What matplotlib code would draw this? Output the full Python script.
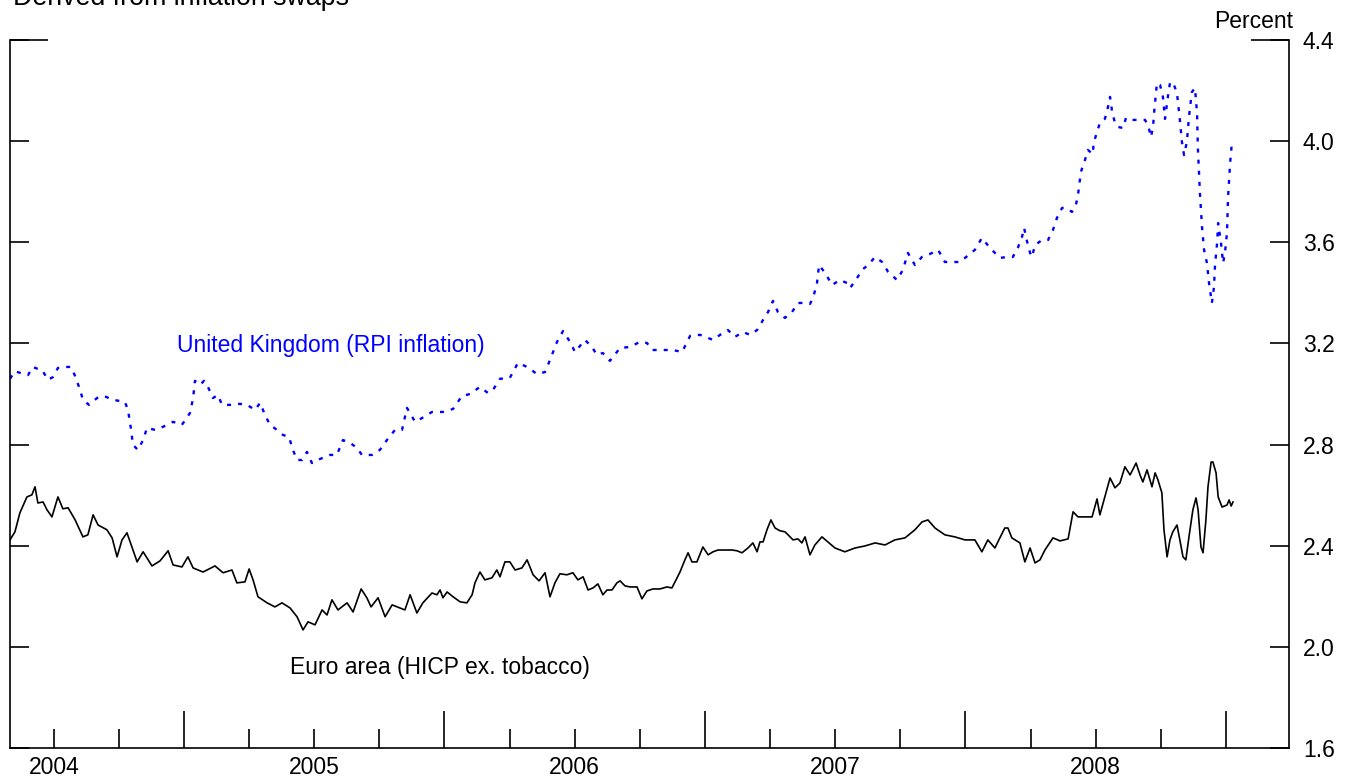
import matplotlib
matplotlib.use("Agg")
import matplotlib.pyplot as plt
import numpy as np

plt.rcParams['font.family'] = ['Liberation Sans', 'DejaVu Sans']

# UK inflation swaps (RPI), decimal years / percent
uk_years = [2004.332, 2004.351, 2004.382, 2004.401, 2004.420, 2004.439, 2004.455, 2004.478, 2004.497, 2004.516,
            2004.535, 2004.566, 2004.582, 2004.601, 2004.612, 2004.635, 2004.666, 2004.693, 2004.727, 2004.773,
            2004.785, 2004.797, 2004.804, 2004.823, 2004.843, 2004.858, 2004.889, 2004.919, 2004.958, 2004.992,
            2005.023, 2005.035, 2005.042, 2005.061, 2005.077, 2005.092, 2005.111, 2005.130, 2005.146, 2005.177,
            2005.215, 2005.242, 2005.273, 2005.292, 2005.311, 2005.330, 2005.357, 2005.380, 2005.403, 2005.418,
            2005.434, 2005.453, 2005.472, 2005.491, 2005.522, 2005.560, 2005.587, 2005.610, 2005.637, 2005.664,
            2005.683, 2005.722, 2005.752, 2005.779, 2005.810, 2005.837, 2005.856, 2005.887, 2005.914, 2005.952,
            2005.994, 2006.033, 2006.067, 2006.098, 2006.136, 2006.167, 2006.186, 2006.213, 2006.251, 2006.282,
            2006.317, 2006.355, 2006.386, 2006.405, 2006.432, 2006.455, 2006.482, 2006.501, 2006.520, 2006.539,
            2006.566, 2006.585, 2006.608, 2006.635, 2006.674, 2006.712, 2006.750, 2006.777, 2006.797, 2006.839,
            2006.877, 2006.912, 2006.943, 2006.981, 2007.031, 2007.058, 2007.088, 2007.115, 2007.146, 2007.173,
            2007.200, 2007.223, 2007.242, 2007.261, 2007.280, 2007.307, 2007.334, 2007.357, 2007.384, 2007.403,
            2007.415, 2007.430, 2007.438, 2007.461, 2007.488, 2007.518, 2007.545, 2007.557, 2007.584, 2007.603,
            2007.626, 2007.653, 2007.680, 2007.703, 2007.737, 2007.760, 2007.779, 2007.806, 2007.833, 2007.864,
            2007.895, 2007.921, 2007.979, 2008.036, 2008.063, 2008.094, 2008.132, 2008.159, 2008.182, 2008.201,
            2008.217, 2008.225, 2008.236, 2008.248, 2008.255, 2008.267, 2008.294, 2008.317, 2008.336, 2008.351,
            2008.371, 2008.386, 2008.409, 2008.424, 2008.432, 2008.443, 2008.459, 2008.470, 2008.489, 2008.492,
            2008.505, 2008.516, 2008.535, 2008.543, 2008.555, 2008.563, 2008.574, 2008.586, 2008.605, 2008.616,
            2008.639, 2008.662, 2008.689, 2008.701, 2008.712, 2008.720, 2008.724, 2008.728, 2008.735, 2008.747,
            2008.758, 2008.766, 2008.777, 2008.785, 2008.796, 2008.812, 2008.823, 2008.831, 2008.839, 2008.850,
            2008.858, 2008.869, 2008.881, 2008.889, 2008.892, 2008.900, 2008.908, 2008.916, 2008.927, 2008.935,
            2008.946, 2008.954, 2008.958, 2008.966, 2008.970, 2008.981, 2008.989, 2008.996, 2009.004, 2009.008,
            2009.016, 2009.023]
uk_vals = [3.06, 3.09, 3.08, 3.075, 3.107, 3.099, 3.095, 3.056, 3.067, 3.103,
           3.107, 3.107, 3.071, 3.016, 2.977, 2.957, 2.984, 2.992, 2.977, 2.969,
           2.937, 2.858, 2.799, 2.779, 2.818, 2.866, 2.858, 2.870, 2.890, 2.878,
           2.925, 2.984, 3.052, 3.036, 3.052, 3.028, 2.984, 2.996, 2.957, 2.957,
           2.961, 2.957, 2.937, 2.965, 2.917, 2.878, 2.858, 2.838, 2.830, 2.779,
           2.739, 2.739, 2.771, 2.727, 2.743, 2.759, 2.759, 2.818, 2.807, 2.787,
           2.759, 2.759, 2.779, 2.818, 2.858, 2.858, 2.945, 2.890, 2.905, 2.929,
           2.929, 2.941, 2.992, 3.000, 3.028, 3.004, 3.016, 3.060, 3.064, 3.123,
           3.107, 3.079, 3.087, 3.135, 3.206, 3.249, 3.206, 3.166, 3.190, 3.214,
           3.186, 3.155, 3.162, 3.131, 3.182, 3.186, 3.206, 3.202, 3.174, 3.174,
           3.174, 3.166, 3.230, 3.234, 3.214, 3.234, 3.253, 3.226, 3.245, 3.234,
           3.253, 3.293, 3.324, 3.368, 3.324, 3.301, 3.324, 3.360, 3.360, 3.356,
           3.380, 3.439, 3.510, 3.479, 3.431, 3.451, 3.439, 3.419, 3.459, 3.491,
           3.510, 3.542, 3.522, 3.483, 3.451, 3.491, 3.558, 3.510, 3.542, 3.554,
           3.570, 3.522, 3.522, 3.570, 3.617, 3.578, 3.538, 3.542, 3.542, 3.578,
           3.621, 3.657, 3.605, 3.558, 3.542, 3.589, 3.609, 3.609, 3.649, 3.696,
           3.736, 3.736, 3.720, 3.748, 3.787, 3.878, 3.926, 3.965, 3.949, 3.993,
           4.036, 4.072, 4.088, 4.115, 4.175, 4.115, 4.072, 4.056, 4.052, 4.092,
           4.084, 4.084, 4.084, 4.064, 4.016, 4.056, 4.111, 4.155, 4.230, 4.222,
           4.175, 4.088, 4.175, 4.230, 4.234, 4.190, 4.084, 3.997, 3.945, 3.997,
           4.096, 4.194, 4.210, 4.111, 3.977, 3.795, 3.661, 3.570, 3.518, 3.439,
           3.360, 3.423, 3.510, 3.597, 3.676, 3.597, 3.518, 3.558, 3.637, 3.779,
           3.914, 3.997]

# Euro area inflation swaps (HICP ex. tobacco)
ea_years = [2004.332, 2004.351, 2004.370, 2004.397, 2004.416, 2004.428, 2004.439, 2004.459, 2004.474, 2004.493,
            2004.516, 2004.535, 2004.555, 2004.582, 2004.612, 2004.631, 2004.651, 2004.670, 2004.704, 2004.724,
            2004.743, 2004.762, 2004.781, 2004.800, 2004.820, 2004.843, 2004.877, 2004.908, 2004.939, 2004.958,
            2004.992, 2005.015, 2005.035, 2005.073, 2005.119, 2005.150, 2005.184, 2005.203, 2005.234, 2005.250,
            2005.265, 2005.284, 2005.319, 2005.349, 2005.376, 2005.407, 2005.434, 2005.457, 2005.476, 2005.503,
            2005.530, 2005.549, 2005.568, 2005.591, 2005.626, 2005.649, 2005.680, 2005.702, 2005.718, 2005.745,
            2005.772, 2005.799, 2005.829, 2005.848, 2005.868, 2005.894, 2005.917, 2005.952, 2005.971, 2005.983,
            2005.994, 2006.010, 2006.033, 2006.060, 2006.086, 2006.106, 2006.117, 2006.136, 2006.155, 2006.182,
            2006.201, 2006.213, 2006.232, 2006.251, 2006.271, 2006.297, 2006.317, 2006.340, 2006.363, 2006.386,
            2006.405, 2006.424, 2006.443, 2006.470, 2006.493, 2006.512, 2006.532, 2006.551, 2006.570, 2006.589,
            2006.608, 2006.624, 2006.643, 2006.662, 2006.674, 2006.693, 2006.712, 2006.739, 2006.758, 2006.777,
            2006.800, 2006.827, 2006.854, 2006.873, 2006.885, 2006.904, 2006.923, 2006.935, 2006.950, 2006.969,
            2006.992, 2007.012, 2007.031, 2007.050, 2007.077, 2007.104, 2007.123, 2007.142, 2007.165, 2007.184,
            2007.200, 2007.211, 2007.223, 2007.238, 2007.253, 2007.269, 2007.288, 2007.307, 2007.319, 2007.338,
            2007.357, 2007.372, 2007.384, 2007.403, 2007.422, 2007.449, 2007.499, 2007.537, 2007.576, 2007.614,
            2007.653, 2007.691, 2007.729, 2007.768, 2007.806, 2007.833, 2007.856, 2007.883, 2007.921, 2007.959,
            2007.998, 2008.036, 2008.063, 2008.086, 2008.113, 2008.132, 2008.151, 2008.163, 2008.178, 2008.209,
            2008.228, 2008.248, 2008.267, 2008.286, 2008.305, 2008.336, 2008.363, 2008.394, 2008.413, 2008.432,
            2008.459, 2008.486, 2008.505, 2008.516, 2008.535, 2008.555, 2008.574, 2008.593, 2008.612, 2008.632,
            2008.655, 2008.670, 2008.681, 2008.697, 2008.716, 2008.728, 2008.739, 2008.754, 2008.762, 2008.774,
            2008.785, 2008.796, 2008.812, 2008.823, 2008.835, 2008.846, 2008.858, 2008.873, 2008.885, 2008.893,
            2008.904, 2008.912, 2008.923, 2008.931, 2008.943, 2008.950, 2008.962, 2008.970, 2008.985, 2009.004,
            2009.012, 2009.020, 2009.027]
ea_vals = [2.423, 2.455, 2.530, 2.593, 2.601, 2.633, 2.569, 2.573, 2.542, 2.514,
           2.593, 2.546, 2.550, 2.502, 2.435, 2.443, 2.522, 2.482, 2.463, 2.431,
           2.356, 2.423, 2.451, 2.395, 2.336, 2.376, 2.320, 2.340, 2.380, 2.324,
           2.316, 2.356, 2.312, 2.296, 2.320, 2.293, 2.304, 2.253, 2.257, 2.308,
           2.265, 2.198, 2.174, 2.158, 2.174, 2.154, 2.119, 2.067, 2.099, 2.087,
           2.146, 2.126, 2.186, 2.146, 2.174, 2.138, 2.229, 2.194, 2.158, 2.194,
           2.119, 2.166, 2.154, 2.146, 2.206, 2.134, 2.174, 2.213, 2.206, 2.225,
           2.194, 2.217, 2.198, 2.178, 2.174, 2.206, 2.253, 2.296, 2.265, 2.273,
           2.304, 2.277, 2.336, 2.336, 2.304, 2.312, 2.344, 2.285, 2.261, 2.293,
           2.198, 2.253, 2.289, 2.285, 2.293, 2.265, 2.277, 2.225, 2.233, 2.249,
           2.206, 2.225, 2.225, 2.253, 2.261, 2.241, 2.237, 2.237, 2.190, 2.221,
           2.229, 2.229, 2.237, 2.233, 2.257, 2.296, 2.344, 2.372, 2.336, 2.336,
           2.395, 2.364, 2.376, 2.383, 2.383, 2.383, 2.380, 2.372, 2.391, 2.411,
           2.376, 2.415, 2.415, 2.463, 2.502, 2.470, 2.459, 2.455, 2.443, 2.423,
           2.427, 2.411, 2.435, 2.364, 2.403, 2.435, 2.391, 2.376, 2.391, 2.399,
           2.411, 2.403, 2.423, 2.431, 2.463, 2.494, 2.502, 2.470, 2.443, 2.435,
           2.423, 2.423, 2.376, 2.423, 2.391, 2.431, 2.470, 2.470, 2.431, 2.411,
           2.336, 2.391, 2.332, 2.344, 2.383, 2.431, 2.419, 2.427, 2.534, 2.514,
           2.514, 2.514, 2.585, 2.522, 2.593, 2.668, 2.629, 2.648, 2.712, 2.680,
           2.727, 2.680, 2.652, 2.700, 2.633, 2.688, 2.660, 2.609, 2.463, 2.356,
           2.423, 2.455, 2.482, 2.423, 2.356, 2.344, 2.435, 2.542, 2.589, 2.542,
           2.395, 2.372, 2.502, 2.633, 2.731, 2.731, 2.688, 2.593, 2.553, 2.561,
           2.581, 2.557, 2.573]

y_ticks = [1.6, 2.0, 2.4, 2.8, 3.2, 3.6, 4.0, 4.4]
year_labels = [2004, 2005, 2006, 2007, 2008]
x_min, x_max = 2004.332, 2009.242
fs = 16.5

fig = plt.figure(figsize=(13.52, 7.79), dpi=100)
ax = fig.add_axes([10 / 1352, 31 / 779, 1279 / 1352, 708 / 779])

ax.plot(ea_years, ea_vals, color='black', lw=1.2)
ax.plot(uk_years, uk_vals, color='#0000ff', lw=1.7, linestyle=(0, (1.7, 3.0)))

for s in ['left', 'right', 'bottom']:
    ax.spines[s].set_linewidth(1.2)
ax.spines['top'].set_visible(False)

# y axis: labels on the right, inward ticks both sides
ax.set_yticks(y_ticks)
ax.set_yticklabels(['%.1f' % v for v in y_ticks])
ax.set_yticks([4.4], minor=True)
ax.yaxis.remove_overlapping_locs = False
ax.tick_params(axis='y', which='major', direction='in', left=True, right=True,
               labelleft=False, labelright=True, length=13.5, width=1.2,
               labelsize=fs, pad=10)
ax.tick_params(axis='y', which='minor', direction='in', left=True, right=True,
               labelleft=False, labelright=False, length=27.5, width=1.2)

# x axis: tall ticks at year starts, short ticks at quarters, year labels mid-year
ax.set_xticks([2005, 2006, 2007, 2008, 2009])
ax.set_xticklabels([])
quarters = []
qlabels = []
for yr in range(2004, 2010):
    for q in (0.25, 0.5, 0.75):
        if x_min < yr + q < x_max:
            quarters.append(yr + q)
            qlabels.append(str(yr) if (q == 0.5 and yr in year_labels) else '')
ax.set_xticks(quarters, minor=True)
ax.set_xticklabels(qlabels, minor=True)
ax.tick_params(axis='x', which='major', direction='in', length=27, width=1.2, top=False)
ax.tick_params(axis='x', which='minor', direction='in', length=13.5, width=1.2,
               top=False, labelsize=fs, pad=6)

ax.set_xlim(x_min, x_max)
ax.set_ylim(1.6, 4.4)

ax.text(x_min + 167 / 1279 * (x_max - x_min), 3.19, 'United Kingdom (RPI inflation)',
        color='#0000ff', fontsize=fs, va='center', ha='left')
ax.text(x_min + 280 / 1279 * (x_max - x_min), 1.92, 'Euro area (HICP ex. tobacco)',
        color='black', fontsize=fs, va='center', ha='left')

fig.text(13 / 1352, 1 - 5 / 779, 'Derived from inflation swaps', fontsize=19.3,
         ha='left', va='baseline')
fig.text(1293 / 1352, 1 - 28 / 779, 'Percent', fontsize=fs, ha='right', va='baseline')

fig.savefig('out.png', dpi=100)
